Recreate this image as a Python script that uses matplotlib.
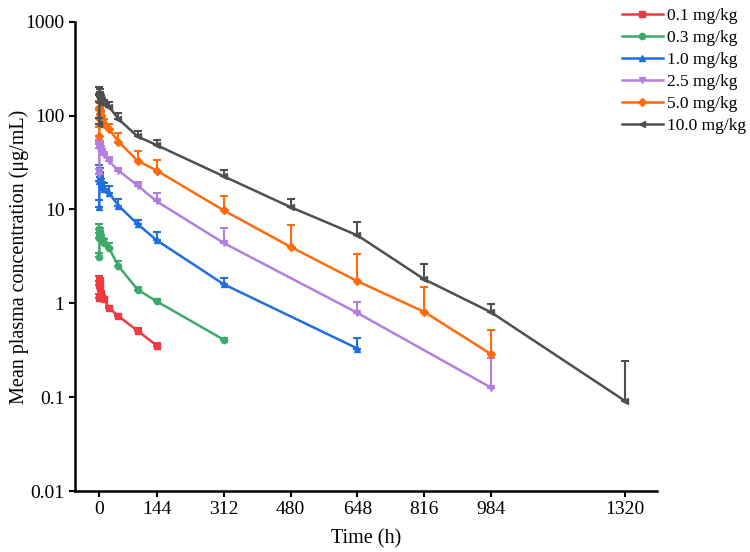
import matplotlib
matplotlib.use('Agg')
import matplotlib.pyplot as plt
import numpy as np
from matplotlib.ticker import FixedLocator, FuncFormatter, NullLocator

plt.rcParams['font.family'] = ['Liberation Serif', 'DejaVu Serif']

# sampling times (h)
t_early = [0.083, 0.25, 0.5, 1, 2, 4, 8, 12, 24, 48, 96, 144]

dose_labels = ['0.1 mg/kg', '0.3 mg/kg', '1.0 mg/kg', '2.5 mg/kg', '5.0 mg/kg', '10.0 mg/kg']

t_01 = t_early
c_01 = [1.15, 1.55, 1.75, 1.7, 1.45, 1.25, 1.15, 1.1, 0.9, 0.73, 0.51, 0.355]
sd_01 = [0.1, 0.2, 0.2, 0.15, 0.12, 0.1, 0.08, 0.06, 0.04, 0.03, 0.03, 0.02]

t_03 = t_early + [312]
c_03 = [3.1, 5.0, 6.2, 5.8, 5.4, 5.0, 4.6, 4.4, 3.9, 2.5, 1.4, 1.05, 0.41]
sd_03 = [0.3, 0.6, 0.8, 0.6, 0.5, 0.4, 0.4, 0.4, 0.5, 0.3, 0.1, 0.05, 0.02]

t_10 = t_early + [312, 648]
c_10 = [10.5, 20, 27, 25, 22, 19, 17.5, 16.5, 15, 11, 7.0, 4.7, 1.6, 0.33]
sd_10 = [2.0, 4.0, 3.0, 3.0, 2.5, 2.0, 2.0, 2.5, 3.0, 1.8, 0.7, 1.0, 0.25, 0.1]

t_25 = t_early + [312, 648, 984]
c_25 = [24, 45, 52, 50, 47, 44, 41, 38, 33, 26, 18, 12.2, 4.4, 0.79, 0.126]
sd_25 = [3, 5, 3, 4, 4, 3, 3, 3, 3, 2, 1.8, 2.8, 2.0, 0.25, 0.137]

t_50 = t_early + [312, 480, 648, 816, 984]
c_50 = [60, 95, 120, 115, 105, 95, 88, 82, 72, 53, 33, 26, 9.8, 4.0, 1.72, 0.81, 0.286]
sd_50 = [15, 20, 25, 20, 18, 15, 12, 10, 10, 12, 9.4, 7.6, 4.1, 2.8, 1.63, 0.7, 0.234]

t_100 = t_early + [312, 480, 648, 816, 984, 1320]
c_100 = [82, 140, 170, 165, 158, 150, 140, 132, 125, 92, 60, 48.5, 22.6, 10.6, 5.3, 1.8, 0.8, 0.091]
sd_100 = [12, 25, 30, 25, 20, 18, 16, 15, 15, 14, 9, 6.5, 3.8, 2.4, 2.0, 0.8, 0.18, 0.15]

x_ticks = [0, 144, 312, 480, 648, 816, 984, 1320]
y_ticks = [0.01, 0.1, 1, 10, 100, 1000]

series = [(t_01, c_01, sd_01), (t_03, c_03, sd_03), (t_10, c_10, sd_10),
          (t_25, c_25, sd_25), (t_50, c_50, sd_50), (t_100, c_100, sd_100)]
colors = ['#EF3B3F', '#3DAA6B', '#1F6FE0', '#B47EDE', '#FF6A0A', '#4F4F4F']
markers = ['s', 'o', '^', 'v', 'D', '<']

fig = plt.figure(figsize=(7.5, 5.52), dpi=100)
ax = fig.add_axes([0.1, 0.1105, 0.776, 0.85])

handles = []
for (t, c, sd), col, m, lab in zip(series, colors, markers, dose_labels):
    c = np.array(c)
    sd = np.array(sd)
    # upper error bars only
    ax.errorbar(t, c, yerr=[np.zeros_like(sd), sd], fmt='none', ecolor=col,
                elinewidth=1.5, capsize=3, capthick=1.5)
    h, = ax.plot(t, c, color=col, marker=m, markersize=4.5, linewidth=1.8, label=lab)
    handles.append(h)

ax.set_yscale('log')
ax.set_ylim(0.01, 1000)
ax.set_xlim(-61, 1400)
ax.xaxis.set_major_locator(FixedLocator(x_ticks))
ax.yaxis.set_major_locator(FixedLocator(y_ticks))
ax.yaxis.set_minor_locator(NullLocator())
ax.yaxis.set_major_formatter(FuncFormatter(lambda v, p: '%g' % v))

for side in ['top', 'right']:
    ax.spines[side].set_visible(False)
for side in ['left', 'bottom']:
    ax.spines[side].set_linewidth(1.8)
ax.tick_params(axis='both', direction='out', width=1.5, length=4, labelsize=14)

ax.set_xlabel('Time (h)', fontsize=14.5, labelpad=8)
ax.set_ylabel('Mean plasma concentration (μg/mL)', fontsize=14.5)
ax.yaxis.set_label_coords(-0.079, 0.5)

fig.legend(handles=handles, loc='upper left', bbox_to_anchor=(0.823, 0.994),
           frameon=False, fontsize=12.5, handlelength=2.4, handletextpad=0.23,
           labelspacing=0.34, borderaxespad=0.0, borderpad=0.25)

plt.savefig('out.png', dpi=100)
plt.close()
